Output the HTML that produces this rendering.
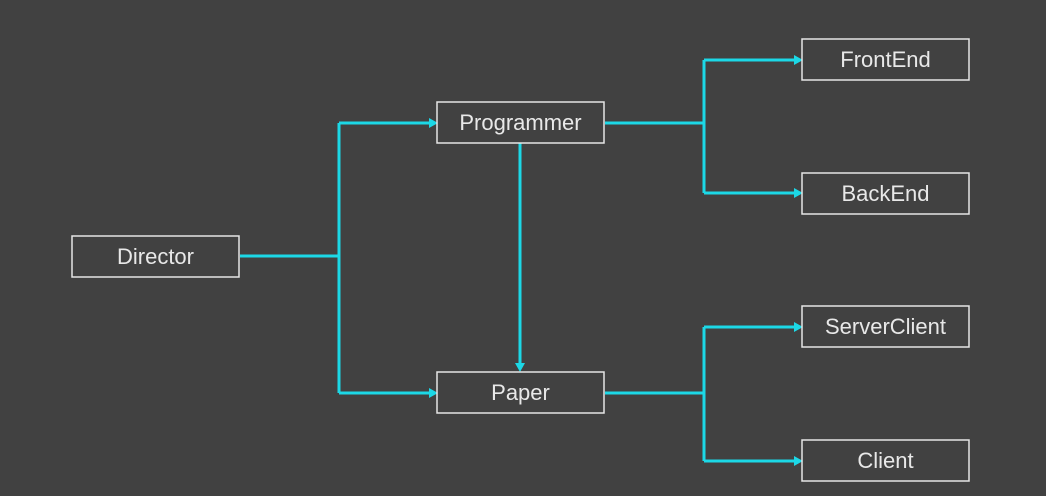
<!DOCTYPE html>
<html><head><style>
html,body{margin:0;padding:0;background:#414141;width:1046px;height:496px;overflow:hidden}
</style></head><body>
<svg width="1046" height="496" xmlns="http://www.w3.org/2000/svg" style="display:block">
<rect width="1046" height="496" fill="#414141"/>
<g fill="none" stroke="#1cd8e6" stroke-width="3">
<path d="M240 256 H339 M339 123 V393 M339 123 H430 M339 393 H430"/>
<path d="M520 143 V365"/>
<path d="M605 123 H704 M704 60 V193 M704 60 H795 M704 193 H795"/>
<path d="M605 393 H704 M704 327 V461 M704 327 H795 M704 461 H795"/>
</g>
<g fill="#1cd8e6">
<path d="M438 123 l-9 -5 v10z"/>
<path d="M438 393 l-9 -5 v10z"/>
<path d="M520 372 l-5 -9 h10z"/>
<path d="M803 60 l-9 -5 v10z"/>
<path d="M803 193 l-9 -5 v10z"/>
<path d="M803 327 l-9 -5 v10z"/>
<path d="M803 461 l-9 -5 v10z"/>
</g>
<g fill="none" stroke="#e6e6e6" stroke-width="1.5">
<rect x="72" y="236" width="167" height="41"/>
<rect x="437" y="102" width="167" height="41"/>
<rect x="437" y="372" width="167" height="41"/>
<rect x="802" y="39" width="167" height="41"/>
<rect x="802" y="173" width="167" height="41"/>
<rect x="802" y="306" width="167" height="41"/>
<rect x="802" y="440" width="167" height="41"/>
</g>
<g fill="#e8e8e8" font-family="Liberation Sans, sans-serif" font-size="22" text-anchor="middle">
<text x="155.5" y="264">Director</text>
<text x="520.5" y="130">Programmer</text>
<text x="520.5" y="400">Paper</text>
<text x="885.5" y="67">FrontEnd</text>
<text x="885.5" y="201">BackEnd</text>
<text x="885.5" y="334">ServerClient</text>
<text x="885.5" y="468">Client</text>
</g>
</svg>
</body></html>
